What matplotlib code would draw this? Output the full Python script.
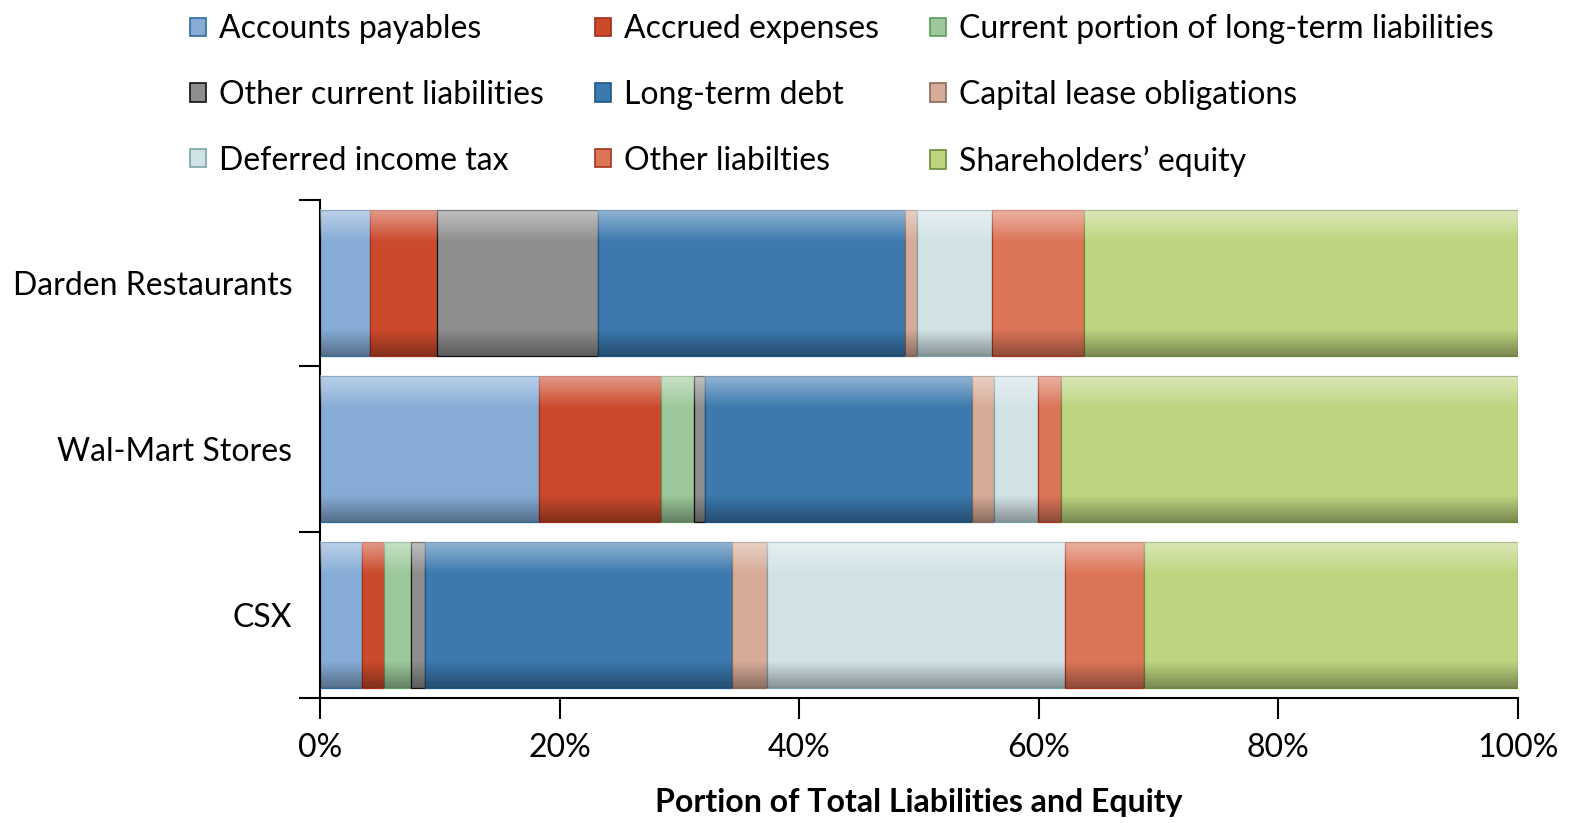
import numpy as np
import matplotlib
matplotlib.use("Agg")
import matplotlib.pyplot as plt
from matplotlib.patches import Patch

plt.rcParams['font.family'] = ['Lato', 'DejaVu Sans']

companies = ['Darden Restaurants', 'Wal-Mart Stores', 'CSX']
labels = ['Accounts payables', 'Accrued expenses', 'Current portion of long-term liabilities',
          'Other current liabilities', 'Long-term debt', 'Capital lease obligations',
          'Deferred income tax', 'Other liabilties', 'Shareholders\u2019 equity']

# percent of total liabilities and equity, one list per company
darden = [4.2, 5.6, 0.0, 13.4, 25.6, 1.0, 6.3, 7.7, 36.2]
walmart = [18.3, 10.2, 2.75, 0.9, 22.3, 1.8, 3.7, 1.9, 38.15]
csx = [3.5, 1.8, 2.3, 1.2, 25.6, 2.9, 24.9, 6.6, 31.2]

colors = ['#86acd6', '#cc4a2c', '#9dc89b', '#8e8e8e', '#3b79ae',
          '#d8ab98', '#d2e3e7', '#dc7558', '#bed580']
edges = ['#2e6aa3', '#a52a1a', '#5d9a5d', '#111111', '#1f5585',
         '#8a6a5a', '#7aa4a8', '#a8341e', '#6d8a3a']

xticks = [0, 20, 40, 60, 80, 100]

data = np.array([darden, walmart, csx])
ypos = np.arange(len(companies))
h = 0.88
fs = 23

fig = plt.figure(figsize=(15.72, 8.23), dpi=100)
ax = fig.add_axes([0.2036, 0.152, 0.762, 0.605])

left = np.zeros(len(companies))
for i, lab in enumerate(labels):
    ax.barh(ypos, data[:, i], left=left, height=h, color=colors[i],
            edgecolor=edges[i], linewidth=0.9, zorder=2)
    left += data[:, i]

# glossy shading over each bar
n = 100
t = np.linspace(0, 1, n)
grad = np.zeros((n, 1, 4))
top = np.clip(1 - t / 0.22, 0, 1)
bot = np.clip((t - 0.82) / 0.18, 0, 1)
grad[:, 0, :3] = np.where(bot[:, None] > 0, 0.0, 1.0)
grad[:, 0, 3] = 0.45 * top + 0.35 * bot
for y, tot in zip(ypos, data.sum(axis=1)):
    ax.imshow(grad, extent=(0, tot, y + h / 2, y - h / 2), aspect='auto',
              interpolation='bilinear', zorder=3)

ax.set_xlim(0, 100)
ax.set_ylim(2.5, -0.5)

ax.spines['top'].set_visible(False)
ax.spines['right'].set_visible(False)
ax.spines['left'].set_linewidth(1.5)
ax.spines['bottom'].set_linewidth(1.5)

ax.set_xticks(xticks)
ax.set_xticklabels([f'{v}%' for v in xticks], fontsize=fs)
ax.set_yticks(ypos)
ax.set_yticklabels(companies, fontsize=fs)
ax.set_yticks([-0.5, 0.5, 1.5, 2.5], minor=True)
ax.tick_params(axis='y', which='major', length=0, pad=20)
ax.tick_params(axis='y', which='minor', length=15, width=1.5, direction='out')
ax.tick_params(axis='x', length=15, width=1.5, pad=10)

ax.set_xlabel('Portion of Total Liabilities and Equity', fontsize=fs,
              fontweight='bold', labelpad=18)

# legend laid out row by row
order = [0, 3, 6, 1, 4, 7, 2, 5, 8]
handles = [Patch(facecolor=colors[i], edgecolor=edges[i], linewidth=1.2) for i in order]
fig.legend(handles, [labels[i] for i in order], ncol=3, loc='upper left',
           bbox_to_anchor=(0.121, 0.983), frameon=False, fontsize=fs,
           handlelength=0.5, handleheight=0.5, handletextpad=0.4,
           columnspacing=1.6, labelspacing=1.12, borderpad=0.0, borderaxespad=0.0)

fig.savefig('out.png', dpi=100)
